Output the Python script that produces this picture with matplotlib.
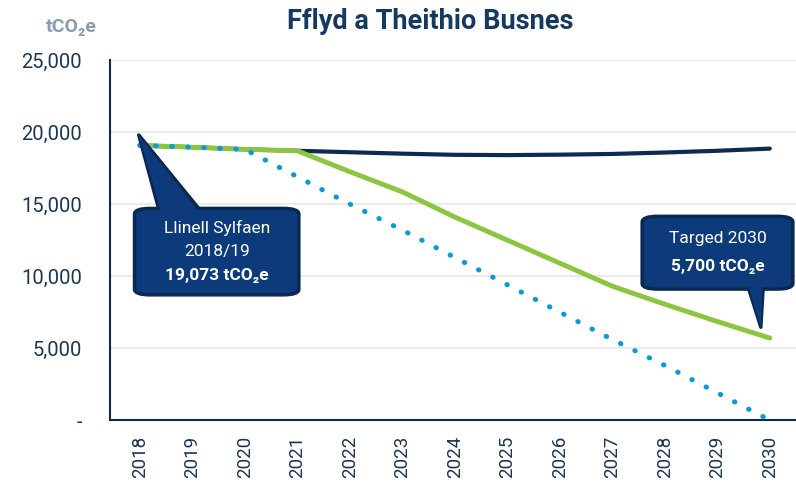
import matplotlib
matplotlib.use("Agg")
import matplotlib.pyplot as plt
from matplotlib.patches import FancyBboxPatch, Polygon
from matplotlib.ticker import FuncFormatter

plt.rcParams['font.family'] = ['Roboto', 'DejaVu Sans']

years = [2018, 2019, 2020, 2021, 2022, 2023, 2024, 2025, 2026, 2027, 2028, 2029, 2030]
bau = [19073, 18950, 18800, 18700, 18600, 18500, 18420, 18400, 18430, 18480, 18580, 18700, 18850]
target = [19073, 18950, 18800, 18700, 17250, 15850, 14100, 12500, 10900, 9300, 8050, 6850, 5700]
net_zero = [19073, 18950, 18800, 16900, 15000, 13200, 11300, 9400, 7500, 5600, 3800, 1900, 0]

navy = '#0d2a4f'
text_col = '#1b3556'
box_fill = '#0c3a7a'
box_edge = '#0a2850'

fig = plt.figure(figsize=(7.96, 4.88), dpi=100)
ax = fig.add_axes([0.138, 0.139, 0.862, 0.738])

x = list(range(len(years)))
ax.plot(x, bau, color=navy, lw=3, solid_capstyle='round', zorder=3)
ax.plot(x, target, color='#8cc63f', lw=3.5, solid_capstyle='round', zorder=4)
ax.plot(x, net_zero, color='#0a9ad8', lw=3.6, linestyle=(0, (0.1, 3.1)),
        dash_capstyle='round', zorder=5)

ax.set_ylim(0, 25000)
ax.set_xlim(-0.57, 12.5)
ax.set_yticks(range(0, 25001, 5000))
ax.yaxis.set_major_formatter(FuncFormatter(lambda v, p: '-' if v == 0 else f'{int(v):,}'))
ax.set_xticks(x)
ax.set_xticklabels([str(y) for y in years], rotation=90)
ax.tick_params(axis='y', length=0, labelsize=14.5, labelcolor=text_col, pad=20)
ax.tick_params(axis='x', length=0, labelsize=13.5, labelcolor=text_col, pad=11)
for lab in ax.get_yticklabels():
    lab.set_horizontalalignment('right')
ax.grid(axis='y', color='#e6e6e6', lw=1.2)
ax.set_axisbelow(True)
for s in ['top', 'right']:
    ax.spines[s].set_visible(False)
ax.spines['left'].set_color(navy)
ax.spines['bottom'].set_color(navy)
ax.spines['left'].set_linewidth(1.5)
ax.spines['bottom'].set_linewidth(1.5)

fig.text(0.54, 0.955, 'Fflyd a Theithio Busnes', ha='center', va='center',
         fontsize=19.5, fontweight='bold', color='#163a5f')
fig.text(0.09, 0.945, 'tCO₂e', ha='center', va='center', fontsize=14,
         fontweight='bold', color='#8a9cb0')


def callout(x0, x1, y0, y1, base, tip, lines):
    ptr = Polygon([(base[0], y1 - 300), tip, (base[1], y1 - 300)], closed=True,
                  facecolor=box_fill, edgecolor=box_edge, lw=2.5, zorder=6,
                  clip_on=False, joinstyle='round')
    ax.add_patch(ptr)
    box = FancyBboxPatch((x0, y0), x1 - x0, y1 - y0,
                         boxstyle='round,pad=0,rounding_size=0.3',
                         mutation_aspect=1300,
                         facecolor=box_fill, edgecolor=box_edge, lw=2.5,
                         zorder=7, clip_on=False)
    ax.add_patch(box)
    # cover the seam between pointer and box
    ax.add_patch(Polygon([(base[0] + 0.04, y1 - 400), (tip[0], tip[1]),
                          (base[1] - 0.04, y1 - 400)], closed=True,
                         facecolor=box_fill, edgecolor='none', zorder=8, clip_on=False))
    n = len(lines)
    cx = (x0 + x1) / 2
    step = (y1 - y0) / (n + 0.6)
    for i, (t, bold) in enumerate(lines):
        yy = y1 - step * (i + 0.8)
        ax.text(cx, yy, t, ha='center', va='center', color='white', fontsize=12.5,
                fontweight='bold' if bold else 'normal', zorder=9)


callout(-0.1, 3.03, 8700, 14700, (0.38, 1.19), (-0.02, 19800),
        [('Llinell Sylfaen', False), ('2018/19', False), ('19,073 tCO₂e', True)])
callout(9.57, 12.44, 9100, 14150, (11.19, 11.95), (11.83, 6450),
        [('Targed 2030', False), ('5,700 tCO₂e', True)])

fig.savefig('out.png', dpi=100)
